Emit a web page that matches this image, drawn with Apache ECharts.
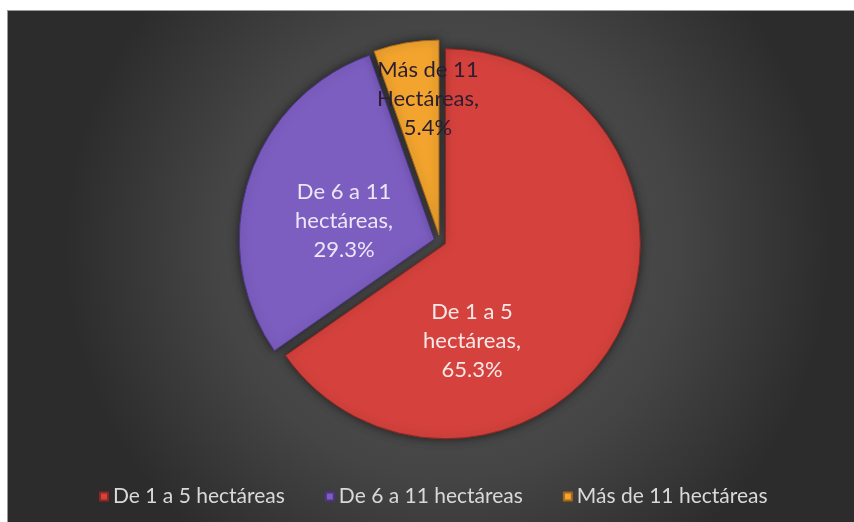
<!DOCTYPE html>
<html>
<head>
<meta charset="utf-8">
<script src="https://cdn.jsdelivr.net/npm/echarts@6/dist/echarts.min.js"></script>
<style>
  html, body { margin: 0; padding: 0; background: #fff; }
  #main {
    position: absolute; left: 7px; top: 10px;
    width: 847px; height: 512px;
    border-top: 1px solid #9a9a9a; border-left: 1px solid #9a9a9a;
    box-sizing: border-box;
  }
</style>
</head>
<body>
<div id="main"></div>
<script>
// datos
var categorias = ['De 1 a 5 hectáreas', 'De 6 a 11 hectáreas', 'Más de 11 hectáreas'];
var etiquetas = ['De 1 a 5\nhectáreas,\n65.3%', 'De 6 a 11\nhectáreas,\n29.3%', 'Más de 11\nHectáreas,\n5.4%'];
var porcentajes = [65.3, 29.3, 5.4];

var colores = ['#d5423d', '#7c5ec1', '#f2a42e'];
var bordes = ['#8e2622', '#4c3585', '#a8661a'];
var coloresTexto = ['#f7e8e8', '#ece6f7', '#2a1e30'];

var chart = echarts.init(document.getElementById('main'));

// geometria del pastel (px dentro del contenedor)
var cx = 432, cy = 230, radio = 195, separacion = 6;
// donde van las etiquetas (estilo Excel), relativo al centro
var destino = [[32, 100], [-96, -20], [-12, -142]];

var datos = categorias.map(function(n, i) {
	return {
		name: n,
		value: porcentajes[i],
		selected: true,
		itemStyle: { color: colores[i], borderColor: bordes[i] }
	};
});

// etiquetas como texto, porque el pastel no deja moverlas libremente
var textos = etiquetas.map(function(t, i) {
	return {
		type: 'text',
		x: cx + destino[i][0],
		y: cy + destino[i][1],
		z: 10,
		silent: true,
		style: {
			text: t,
			fill: coloresTexto[i],
			fontFamily: 'Lato',
			fontSize: 22,
			lineHeight: 29,
			align: 'center',
			verticalAlign: 'middle'
		}
	};
});

var option = {
	backgroundColor: {
		type: 'radial', x: 0.52, y: 0.46, r: 0.75,
		colorStops: [
			{ offset: 0, color: '#545454' },
			{ offset: 0.6, color: '#454545' },
			{ offset: 1, color: '#2c2c2c' }
		]
	},
	animation: false,
	legend: {
		data: categorias,
		left: 86,
		top: 470,
		icon: 'rect',
		itemWidth: 8,
		itemHeight: 8,
		itemGap: 40,
		textStyle: { color: '#d9d9d9', fontFamily: 'Lato', fontSize: 21 }
	},
	graphic: textos,
	series: [{
		type: 'pie',
		center: [cx, cy],
		radius: radio,
		startAngle: 90,
		clockwise: true,
		selectedMode: 'multiple',
		selectedOffset: separacion,
		itemStyle: {
			borderWidth: 1,
			shadowBlur: 10,
			shadowColor: 'rgba(0,0,0,0.55)'
		},
		label: { show: false },
		labelLine: { show: false },
		emphasis: { scale: false },
		data: datos
	}]
};

chart.setOption(option);

window.onresize = function() {
	chart.resize();
};
</script>
</body>
</html>
